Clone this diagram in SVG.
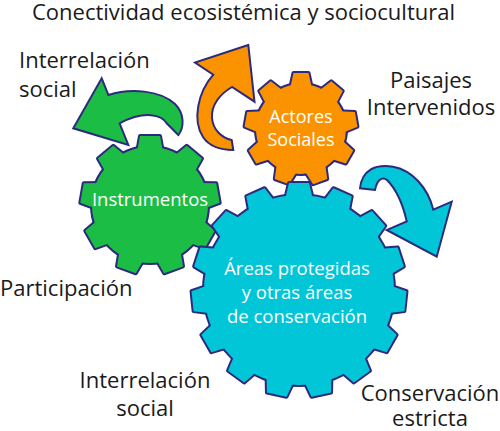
<svg xmlns="http://www.w3.org/2000/svg" xmlns:xlink="http://www.w3.org/1999/xlink" width="500" height="431" viewBox="0 0 500 431">
<style>
.lbl{font-family:"Open Sans","Liberation Sans",sans-serif;font-size:22px;fill:#1a1a1a}
.mid{text-anchor:middle}
.in{font-family:"Open Sans","Liberation Sans",sans-serif;fill:#ffffff;text-anchor:middle}
.edge{stroke:#2d2a7e;stroke-width:4;stroke-linejoin:round}
.arrow{stroke:#2d2a7e;stroke-width:2;stroke-linejoin:miter}
.green{fill:#1cbd45}
.orange{fill:#fb9300}
.cyan{fill:#00c6d8}
</style>
<defs>
<polygon id="tG" points="-13.5,-50 -10,-69 10,-69 13.5,-50"/>
<g id="gearG">
<circle r="58"/>
<use xlink:href="#tG"/><use xlink:href="#tG" transform="rotate(40)"/><use xlink:href="#tG" transform="rotate(80)"/>
<use xlink:href="#tG" transform="rotate(120)"/><use xlink:href="#tG" transform="rotate(160)"/><use xlink:href="#tG" transform="rotate(200)"/>
<use xlink:href="#tG" transform="rotate(240)"/><use xlink:href="#tG" transform="rotate(280)"/><use xlink:href="#tG" transform="rotate(320)"/>
</g>
<polygon id="tO" points="-11,-40 -7.5,-56 7.5,-56 11,-40"/>
<g id="gearO">
<circle r="45"/>
<use xlink:href="#tO"/><use xlink:href="#tO" transform="rotate(40)"/><use xlink:href="#tO" transform="rotate(80)"/>
<use xlink:href="#tO" transform="rotate(120)"/><use xlink:href="#tO" transform="rotate(160)"/><use xlink:href="#tO" transform="rotate(200)"/>
<use xlink:href="#tO" transform="rotate(240)"/><use xlink:href="#tO" transform="rotate(280)"/><use xlink:href="#tO" transform="rotate(320)"/>
</g>
<polygon id="tC" points="-14.5,-88 -10,-107 10,-107 14.5,-88"/>
<g id="gearC">
<circle r="95"/>
<use xlink:href="#tC"/><use xlink:href="#tC" transform="rotate(24)"/><use xlink:href="#tC" transform="rotate(48)"/>
<use xlink:href="#tC" transform="rotate(72)"/><use xlink:href="#tC" transform="rotate(96)"/><use xlink:href="#tC" transform="rotate(120)"/>
<use xlink:href="#tC" transform="rotate(144)"/><use xlink:href="#tC" transform="rotate(168)"/><use xlink:href="#tC" transform="rotate(192)"/>
<use xlink:href="#tC" transform="rotate(216)"/><use xlink:href="#tC" transform="rotate(240)"/><use xlink:href="#tC" transform="rotate(264)"/>
<use xlink:href="#tC" transform="rotate(288)"/><use xlink:href="#tC" transform="rotate(312)"/><use xlink:href="#tC" transform="rotate(336)"/>
</g>
</defs>
<rect width="500" height="431" fill="#ffffff"/>

<g id="connectors">
<path class="arrow green" d="M73.3,128.3 L101.7,78.3 L108.4,95 C130,88 160,90 175,104 C185,114 184,128 178.3,135 L166.7,123.3 C162,115 145,110 119.6,123.3 L128.3,145 Z"/>
<path class="arrow orange" d="M248.3,45 L195,62.5 L213.3,74.6 C198,92 192,120 203,137 C209,146 220,150 233.3,150 L231.7,140 C222,138 213,130 212,118 C211,105 220,94 232,87 L254.5,101.7 Z"/>
<path class="arrow cyan" d="M436.7,256.7 L386.7,230 L406.7,221.3 C403,205 397,190 387,180 C382,176 377,180 375,190 L360,188.3 C362,170 375,164 393,166.7 C412,170 428,188 433.3,209.7 L451.7,201.7 Z"/>
</g>

<g id="instrumentos" transform="translate(150,205)">
<use xlink:href="#gearG" class="edge green"/>
<use xlink:href="#gearG" class="green"/>
<text class="in" x="0" y="1" font-size="18.5">Instrumentos</text>
</g>

<g id="actores-sociales" transform="translate(301,129)">
<use xlink:href="#gearO" class="edge orange"/>
<use xlink:href="#gearO" class="orange"/>
<text class="in" x="0" y="-6" font-size="18">Actores</text>
<text class="in" x="0" y="17" font-size="18">Sociales</text>
</g>

<g id="areas-protegidas" transform="translate(299,290)">
<use xlink:href="#gearC" class="edge cyan"/>
<use xlink:href="#gearC" class="cyan"/>
<text class="in" x="-2" y="-15" font-size="18.5">Áreas protegidas</text>
<text class="in" x="-2" y="9" font-size="18.5">y otras áreas</text>
<text class="in" x="-2" y="33" font-size="18.5">de conservación</text>
</g>

<g id="labels">
<text class="lbl" x="32" y="19.5" font-size="22.5">Conectividad ecosistémica y sociocultural</text>
<text class="lbl" x="19" y="68">Interrelación</text>
<text class="lbl" x="19" y="97">social</text>
<text class="lbl mid" x="431" y="88">Paisajes</text>
<text class="lbl mid" x="431" y="115">Intervenidos</text>
<text class="lbl" x="0" y="296">Participación</text>
<text class="lbl mid" x="145" y="388">Interrelación</text>
<text class="lbl mid" x="145" y="416">social</text>
<text class="lbl mid" x="430" y="401">Conservación</text>
<text class="lbl mid" x="430" y="426">estricta</text>
</g>
</svg>
